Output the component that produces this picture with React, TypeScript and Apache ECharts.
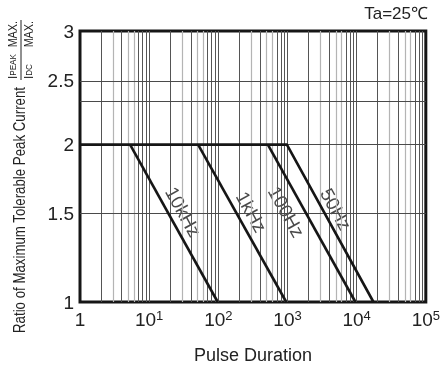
import React, { useEffect, useRef } from 'react';
import * as echarts from 'echarts';

// ---- data ----
const xMin = 1;
const xMax = 100000;
const yTickValues = [1, 1.5, 2, 2.5, 3];
const yTickLabels = ['1', '1.5', '2', '2.5', '3'];
// vertical positions of the (hand-drawn, non-uniform) y ticks on the axis, in axis units
const yTickPos = [0, 89, 158, 222, 272];
const yGridValues = [1.5, 2, 2.34, 2.5];
const curveNames = ['10kHz', '1kHz', '100Hz', '50Hz'];
const curveKneeX = [5.3, 51, 520, 980];
const curveEndX = [98, 960, 9600, 17500];
const plateauY = 2;
const floorY = 1;
const plateauStartX = 1;
const labelX = [31, 300, 960, 5000];
const labelY = [1.51, 1.51, 1.51, 1.53];
const minorDark = [2, 4, 7, 8, 9];
const minorLight = [3, 5, 6];
const decades = [1, 10, 100, 1000, 10000];

const FONT = "'Liberation Sans', Arial, sans-serif";

function toPos(v: number): number {
  for (let i = 0; i < yTickValues.length - 1; i++) {
    const a = yTickValues[i];
    const b = yTickValues[i + 1];
    if (v <= b || i === yTickValues.length - 2) {
      return yTickPos[i] + ((v - a) / (b - a)) * (yTickPos[i + 1] - yTickPos[i]);
    }
  }
  return 0;
}

export default function App() {
  const ref = useRef<HTMLDivElement>(null);
  useEffect(() => {
    if (!ref.current) return;
    const chart = echarts.init(ref.current, undefined, { renderer: 'svg' });

    const vLines: any[] = [];
    decades.forEach((d) => {
      minorDark.forEach((m) =>
        vLines.push({ xAxis: d * m, lineStyle: { color: '#555', width: 1, type: 'solid' } })
      );
      minorLight.forEach((m) =>
        vLines.push({ xAxis: d * m, lineStyle: { color: '#b4b4b4', width: 1.2, type: 'solid' } })
      );
      if (d > 1) vLines.push({ xAxis: d, lineStyle: { color: '#555', width: 1, type: 'solid' } });
    });
    const hLines = yGridValues.map((v) => ({
      yAxis: toPos(v),
      lineStyle: { color: '#4a4a4a', width: 1, type: 'solid' },
    }));

    const curveSeries = curveNames.map((name, i) => {
      const data: number[][] = [];
      if (i === curveNames.length - 1) data.push([plateauStartX, toPos(plateauY)]);
      data.push([curveKneeX[i], toPos(plateauY)]);
      data.push([curveEndX[i], toPos(floorY)]);
      return {
        type: 'line',
        name,
        data,
        symbol: 'none',
        z: 5,
        lineStyle: { color: '#161616', width: 2.6 },
      };
    });

    chart.setOption({
      animation: false,
      grid: {
        left: 80,
        right: 17,
        top: 31,
        bottom: 66,
        show: true,
        borderColor: '#161616',
        borderWidth: 3,
        backgroundColor: '#fff',
      },
      xAxis: {
        type: 'log',
        logBase: 10,
        min: xMin,
        max: xMax,
        axisLine: { show: false },
        axisTick: { show: false },
        splitLine: { show: false },
        minorSplitLine: { show: false },
        axisLabel: {
          margin: 7,
          formatter: (v: number) => {
            const e = Math.round(Math.log10(v));
            return e === 0 ? '{b|1}' : `{b|10}{s|${e}}`;
          },
          rich: {
            b: { fontSize: 19, color: '#222', fontFamily: FONT, lineHeight: 20 },
            s: { fontSize: 13, color: '#222', fontFamily: FONT, verticalAlign: 'top', lineHeight: 12 },
          },
        },
        name: 'Pulse Duration',
        nameLocation: 'middle',
        nameGap: 44,
        nameTextStyle: { fontSize: 18, color: '#222', fontFamily: FONT },
      },
      yAxis: {
        type: 'value',
        min: 0,
        max: yTickPos[yTickPos.length - 1],
        axisLine: { show: false },
        axisTick: { show: false, customValues: yTickPos },
        splitLine: { show: false },
        axisLabel: {
          customValues: yTickPos,
          formatter: (v: number) => {
            const idx = yTickPos.indexOf(Math.round(v));
            return idx >= 0 ? yTickLabels[idx] : '';
          },
          fontSize: 19,
          color: '#222',
          fontFamily: FONT,
          margin: 6,
        },
      },
      graphic: [
        {
          type: 'text',
          x: 428,
          y: 13,
          style: { text: 'Ta=25℃', fontSize: 17, fill: '#222', fontFamily: FONT, align: 'right', verticalAlign: 'middle' },
        },
        {
          type: 'text',
          x: 20,
          y: 210,
          rotation: Math.PI / 2,
          scaleX: 0.83,
          style: {
            text: 'Ratio of Maximum Tolerable Peak Current',
            fontSize: 16,
            fill: '#222',
            fontFamily: FONT,
            align: 'center',
            verticalAlign: 'middle',
          },
        },
        {
          type: 'text',
          x: 13,
          y: 79,
          rotation: Math.PI / 2,
          scaleX: 0.9,
          style: {
            text: '{a|I}{b|PEAK}',
            rich: {
              a: { fontSize: 13, fill: '#222', fontFamily: FONT },
              b: { fontSize: 9, fill: '#222', fontFamily: FONT },
            },
            align: 'left',
            verticalAlign: 'middle',
          },
        },
        {
          type: 'text',
          x: 13,
          y: 21,
          rotation: Math.PI / 2,
          scaleX: 0.83,
          style: { text: 'MAX.', fontSize: 13, fill: '#222', fontFamily: FONT, align: 'right', verticalAlign: 'middle' },
        },
        {
          type: 'line',
          shape: { x1: 21, y1: 20, x2: 21, y2: 80 },
          style: { stroke: '#222', lineWidth: 1 },
        },
        {
          type: 'text',
          x: 29,
          y: 79,
          rotation: Math.PI / 2,
          scaleX: 0.9,
          style: {
            text: '{a|I}{b|DC}',
            rich: {
              a: { fontSize: 13, fill: '#222', fontFamily: FONT },
              b: { fontSize: 9, fill: '#222', fontFamily: FONT },
            },
            align: 'left',
            verticalAlign: 'middle',
          },
        },
        {
          type: 'text',
          x: 29,
          y: 21,
          rotation: Math.PI / 2,
          scaleX: 0.83,
          style: { text: 'MAX.', fontSize: 13, fill: '#222', fontFamily: FONT, align: 'right', verticalAlign: 'middle' },
        },
      ],
      series: [
        {
          type: 'line',
          name: 'grid',
          data: [[xMin, 0]],
          symbol: 'none',
          silent: true,
          z: 1,
          lineStyle: { width: 0 },
          markLine: {
            silent: true,
            symbol: 'none',
            label: { show: false },
            animation: false,
            data: [...vLines, ...hLines],
          },
        },
        ...curveSeries,
        {
          type: 'scatter',
          name: 'labels',
          symbolSize: 0.1,
          itemStyle: { color: 'rgba(0,0,0,0)' },
          z: 4,
          data: curveNames.map((n, i) => ({ name: n, value: [labelX[i], toPos(labelY[i])] })),
          label: {
            show: true,
            position: 'inside',
            formatter: '{b}',
            rotate: -61,
            fontSize: 19,
            color: '#1a1a1a',
            fontFamily: FONT,
            backgroundColor: '#fff',
            padding: [0, 1],
          },
        },
      ],
    });
    return () => chart.dispose();
  }, []);
  return <div ref={ref} style={{ position: 'fixed', left: 0, top: 0, width: 443, height: 369 }} />;
}
